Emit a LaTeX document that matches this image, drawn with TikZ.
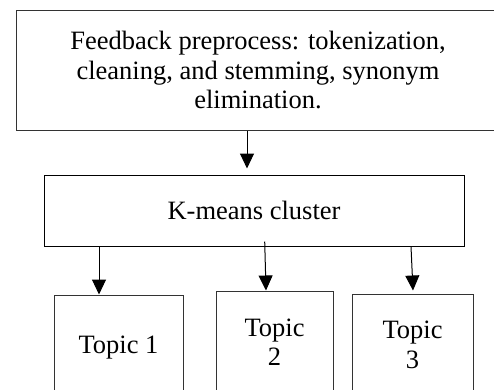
\documentclass[tikz,border=0pt]{standalone}
\usepackage{fontspec}
\setmainfont{Liberation Serif}
\usetikzlibrary{arrows.meta,calc}
\begin{document}
\begin{tikzpicture}[x=1pt,y=-1pt,
  box/.style={draw=black!80,line width=1pt,inner sep=0pt,align=center,
    font=\fontsize{26.5}{29.5}\selectfont},
  conn/.style={line width=1pt,-{Triangle[length=15pt,width=14pt]}}]
\useasboundingbox (0,0) rectangle (494,389);
\node[box,minimum width=484pt,minimum height=120pt] (top) at (258,70)
  {Feedback preprocess: tokenization,\\cleaning, and stemming, synonym\\elimination.};
\node[box,draw=black,minimum width=420pt,minimum height=71pt] (km) at (254,210.5)
  {\raisebox{-3pt}{K-means cluster}};
\node[box,minimum width=129pt,minimum height=105pt] (t1) at (118.5,347.5) {Topic 1};
\node[box,minimum width=117pt,minimum height=102pt] (t2) at (274.5,342) {Topic\\2};
\node[box,minimum width=121pt,minimum height=102pt] (t3) at (412.5,345) {Topic\\3};
\draw[conn] ([xshift=-11pt]top.south) -- ([xshift=-7pt,yshift=6pt]km.north);
\draw[conn] ([xshift=-155pt]km.south) -- ([xshift=-19.5pt]t1.north);
\draw[conn] ([xshift=10.7pt,yshift=5pt]km.south) -- ([xshift=-8.5pt]t2.north);
\draw[conn] ([xshift=157pt]km.south) -- ([xshift=0.5pt,yshift=3pt]t3.north);
\end{tikzpicture}
\end{document}
